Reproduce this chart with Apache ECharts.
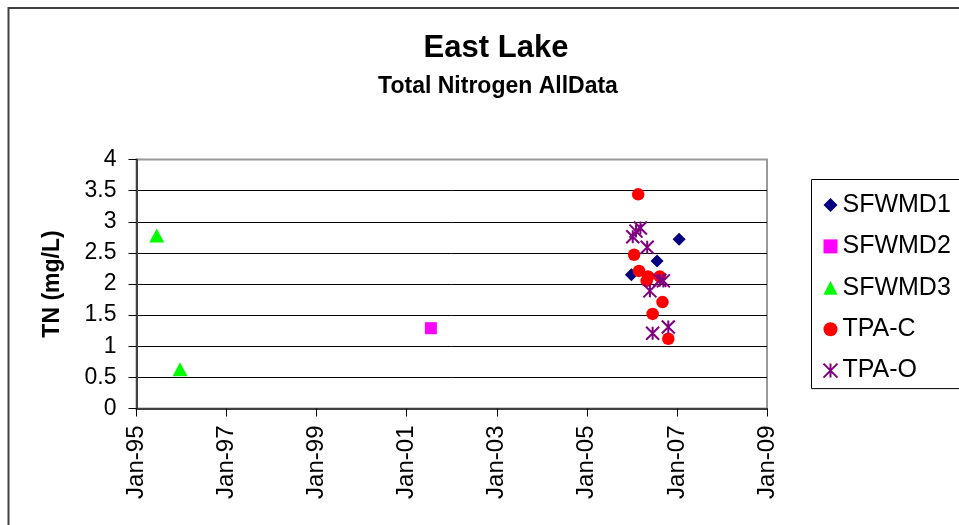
<!DOCTYPE html>
<html>
<head>
<meta charset="utf-8">
<title>East Lake - Total Nitrogen</title>
<script src="https://cdn.jsdelivr.net/npm/echarts@6/dist/echarts.min.js"></script>
<style>
  html, body { margin: 0; padding: 0; background: #fff; }
  #chart { width: 959px; height: 525px; }
</style>
</head>
<body>
<div id="chart"></div>
<script>
// Sample dates and total nitrogen (mg/L) per station
const sfwmd1Dates = ['2005-12-28', '2006-07-24', '2007-01-19'];
const sfwmd1Values = [2.15, 2.37, 2.72];

const sfwmd2Dates = ['2001-07-16'];
const sfwmd2Values = [1.29];

const sfwmd3Dates = ['1995-06-14', '1995-12-20'];
const sfwmd3Values = [2.78, 0.63];

const tpaCDates = ['2006-02-21', '2006-01-19', '2006-02-28', '2006-05-12', '2006-05-01',
                   '2006-08-15', '2006-09-06', '2006-06-18', '2006-10-23'];
const tpaCValues = [3.44, 2.47, 2.21, 2.12, 2.05, 2.12, 1.71, 1.52, 1.12];

const tpaODates = ['2006-01-08', '2006-02-03', '2006-03-11', '2006-05-05', '2006-05-27',
                   '2006-08-15', '2006-09-13', '2006-06-18', '2006-10-23'];
const tpaOValues = [2.76, 2.85, 2.90, 2.59, 1.89, 2.06, 2.05, 1.21, 1.31];

const yearTicks = [1995, 1997, 1999, 2001, 2003, 2005, 2007, 2009];
const yTicks = [0, 0.5, 1, 1.5, 2, 2.5, 3, 3.5, 4];

// Convert an ISO date string to a fractional year
function toYear(s) {
  const d = new Date(s + 'T00:00:00Z');
  const y = d.getUTCFullYear();
  const start = Date.UTC(y, 0, 1);
  const end = Date.UTC(y + 1, 0, 1);
  return y + (d.getTime() - start) / (end - start);
}
function pairs(dates, values) {
  return dates.map((s, i) => [toYear(s), values[i]]);
}

const FONT = 'Liberation Sans, Arial, sans-serif';
const asterisk = 'path://M0,0 L10,10 M10,0 L0,10 M5,0 L5,10';

const chart = echarts.init(document.getElementById('chart'), null, { renderer: 'canvas' });

const option = {
  animation: false,
  backgroundColor: '#fff',
  title: [
    {
      text: 'East Lake',
      left: 491, top: 28, textAlign: 'center',
      textStyle: { fontFamily: FONT, fontSize: 31, fontWeight: 'bold', color: '#000' }
    },
    {
      text: 'Total Nitrogen AllData',
      left: 493, top: 70, textAlign: 'center',
      textStyle: { fontFamily: FONT, fontSize: 23, fontWeight: 'bold', color: '#000' }
    }
  ],
  graphic: [
    {
      type: 'rect', silent: true, z: -1,
      shape: { x: 8.5, y: 8, width: 1000, height: 600 },
      style: { fill: 'none', stroke: '#404040', lineWidth: 2 }
    }
  ],
  legend: {
    orient: 'vertical',
    left: 811.5, top: 179.5,
    padding: [12.5, 30, 5, 11],
    itemGap: 15.4,
    itemWidth: 14, itemHeight: 14,
    borderColor: '#000', borderWidth: 1,
    backgroundColor: '#fff',
    textStyle: { fontFamily: FONT, fontSize: 25, color: '#000', lineHeight: 26 },
    data: ['SFWMD1', 'SFWMD2', 'SFWMD3', 'TPA-C', 'TPA-O']
  },
  grid: {
    left: 136.5, top: 159.5, width: 630.5, height: 249,
    show: true, borderColor: '#999', borderWidth: 2, backgroundColor: '#fff'
  },
  xAxis: {
    type: 'value',
    min: yearTicks[0], max: yearTicks[yearTicks.length - 1], interval: 2,
    axisLine: { lineStyle: { color: '#404040', width: 2 } },
    axisTick: { show: true, length: 8, lineStyle: { color: '#000', width: 1 } },
    splitLine: { show: false },
    axisLabel: {
      rotate: 90, margin: 17,
      fontFamily: FONT, fontSize: 24, color: '#000',
      formatter: v => 'Jan-' + String(v).slice(2)
    }
  },
  yAxis: {
    type: 'value',
    min: yTicks[0], max: yTicks[yTicks.length - 1], interval: 0.5,
    name: 'TN (mg/L)',
    nameLocation: 'middle', nameGap: 72,
    nameTextStyle: { fontFamily: FONT, fontSize: 23, fontWeight: 'bold', color: '#000' },
    axisLine: { show: true, lineStyle: { color: '#404040', width: 2 } },
    axisTick: { show: true, length: 8, lineStyle: { color: '#000', width: 1 } },
    splitLine: {
      show: true,
      lineStyle: { color: ['#000', '#000', '#000', '#000', '#000', '#000', '#000', '#000', '#999'], width: 1 }
    },
    axisLabel: {
      margin: 20, fontFamily: FONT, fontSize: 23, color: '#000',
      formatter: v => String(v)
    }
  },
  series: [
    {
      name: 'SFWMD1', type: 'scatter', symbol: 'diamond', symbolSize: 13,
      itemStyle: { color: '#000080', opacity: 1 },
      data: pairs(sfwmd1Dates, sfwmd1Values)
    },
    {
      name: 'SFWMD2', type: 'scatter', symbol: 'rect', symbolSize: 12,
      itemStyle: { color: '#FF00FF', opacity: 1 },
      data: pairs(sfwmd2Dates, sfwmd2Values)
    },
    {
      name: 'SFWMD3', type: 'scatter', symbol: 'triangle', symbolSize: [15, 14],
      itemStyle: { color: '#00FF00', opacity: 1 },
      data: pairs(sfwmd3Dates, sfwmd3Values)
    },
    {
      name: 'TPA-C', type: 'scatter', symbol: 'circle', symbolSize: 12.5,
      itemStyle: { color: '#FF0000', opacity: 1 },
      data: pairs(tpaCDates, tpaCValues)
    },
    {
      name: 'TPA-O', type: 'scatter', symbol: asterisk, symbolSize: 13,
      itemStyle: { color: 'rgba(0,0,0,0)', borderColor: '#800080', borderWidth: 2, opacity: 1 },
      data: pairs(tpaODates, tpaOValues)
    }
  ]
};

chart.setOption(option);
</script>
</body>
</html>
